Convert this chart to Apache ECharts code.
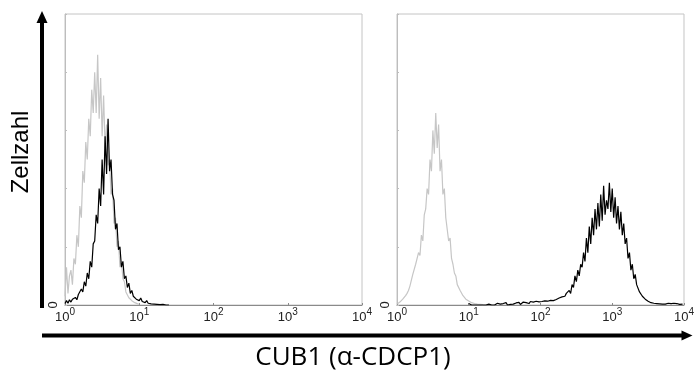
<!DOCTYPE html>
<html>
<head>
<meta charset="utf-8">
<script src="https://cdn.jsdelivr.net/npm/echarts@6/dist/echarts.min.js"></script>
<style>
html,body{margin:0;padding:0;background:#fff;}
#chart{width:697px;height:372px;}
</style>
</head>
<body>
<div id="chart"></div>
<script>
// ---- data (x in log10 units of fluorescence, y in relative cell count, 0..100) ----
const decadeExponents = [0, 1, 2, 3, 4];
const binStep = 0.02;

// Left panel: isotype control (grey)
const leftIsoStart = 0.0;
const leftIso = [3,13,4,10,12,7,16,14,24,20,
  34,30,46,42,56,50,64,58,74,66,
  80,66,86,64,78,58,72,54,62,48,
  50,38,40,28,30,20,22,13,15,9,
  8,4.5,5,2.5,3,1.5,2,0.8,1.2,0.4,
  0.3];

// Left panel: CUB1 (black)
const leftCub1Start = 0.0;
const leftCub1 = [0.5,1.5,0.6,1.8,1,2,1.4,2.6,1.8,3.6,
  3,5.5,4.5,8,6.5,11,9,15,13,21,
  22,31,28,40,34,50,38,58,45,64,
  46,50,38,36,26,28,19,20,13,15,
  9,10,6,7.5,4,5,3,3.5,2,2.6,
  1.5,2.4,1.2,1.8,0.8,1.5,0.6,1.1,0.4,0.9,
  0.3,0.7,0.2,0.6,0.1,0.5,0.2,0.4,0,0.6,0];

// Right panel: isotype control (grey)
const rightIsoStart = 0.0;
const rightIso = [0.3,0.6,1,1.5,2,2.5,3.2,4,5,6.5,
  7,10.5,10,14,13.5,18,17,24,22,31,
  33,40,38,50,46,60,52,66,54,62,
  46,50,38,40,30,30,22,23,16,14,
  11,10,7,7.5,5,5,3.2,3.5,2,2.2,
  1.4,1.2,0.8,1.1,0.5,0.6,0.3,0.4,0.2,0.3,0.1];

// Right panel: CUB1 (black)
const rightCub1Start = 1.0;
const rightCub1 = [0.5,0,0,0.4,0,0,0,0.6,0,0,
  0,0.5,0,0,0.3,0,0,0.5,0,0,
  0.6,0,0.3,0,0.5,0,0.8,0,0.4,0.2,
  0.6,0.3,0,0.7,0.4,0.9,0.2,0.6,1,0.4,
  0.8,1,0.5,1.2,0.7,1,0.6,1.3,0.9,1.1,
  0.8,1.2,1,1.4,0.9,1.3,1.1,1.6,1.2,1.5,
  1.4,1.9,1.6,2.4,2,2.8,3.2,3,4,3.8,
  5,4,7,6,10,8,12,10,14,13,
  18,15,23,18,27,21,30,24,33,26,
  35,27,38,29,41,31,36,33,42,32,
  40,30,37,28,34,26,32,24,28,21,
  23,16,18,12,14,9,10.5,7,7.5,4.5,
  4.5,3,3.2,2,2.2,1.3,1.5,0.8,1.2,0.6,
  0.9,0.5,0.8,0.4,0.7,0.3,0.6,0.3,0.5,0.6,
  0.4,0.5,0.3,0.6,0.4,0.5,0.3,0.2,0.4,0.3];

const toPairs = (start, arr) => arr.map((v, i) => [+(start + i * binStep).toFixed(3), v]);

const chart = echarts.init(document.getElementById('chart'), null, {renderer: 'canvas'});

const grids = [
  {left: 65, top: 14, width: 297, height: 291},
  {left: 397, top: 14, width: 296, height: 291}
];

function xAxisFor(i) {
  return {
    gridIndex: i, type: 'value', min: 0, max: 4, interval: 1,
    axisLine: {show: true, lineStyle: {color: '#8a8a8a', width: 1}},
    axisTick: {show: true, inside: true, length: 2, lineStyle: {color: '#8a8a8a'}},
    splitLine: {show: false},
    axisLabel: {
      margin: 2,
      showMinLabel: true, showMaxLabel: true,
      formatter: v => '{b|10}{s|' + decadeExponents[Math.round(v)] + '}',
      rich: {
        b: {fontSize: 13, fontFamily: 'Liberation Sans, Arial, sans-serif', color: '#222', lineHeight: 17, verticalAlign: 'bottom'},
        s: {fontSize: 10, fontFamily: 'Liberation Sans, Arial, sans-serif', color: '#222', lineHeight: 11, verticalAlign: 'top'}
      }
    }
  };
}
function yAxisFor(i) {
  return {
    gridIndex: i, type: 'value', min: 0, max: 100, interval: 20,
    axisLine: {show: true, lineStyle: {color: '#bdbdbd', width: 1}},
    axisTick: {show: true, inside: true, length: 2, lineStyle: {color: '#bdbdbd'}},
    splitLine: {show: false},
    axisLabel: {
      margin: 5, rotate: 90,
      fontSize: 13, fontFamily: 'Liberation Sans, Arial, sans-serif', color: '#222',
      formatter: v => (v === 0 ? '0' : '')
    }
  };
}

function series(xi, data, color, width, z) {
  return {
    type: 'line', xAxisIndex: xi, yAxisIndex: xi, data: data,
    showSymbol: false, symbol: 'none', smooth: false, silent: true,
    lineStyle: {color: color, width: width}, z: z, animation: false
  };
}

const option = {
  backgroundColor: '#fff',
  animation: false,
  grid: grids.map(g => Object.assign({show: true, borderColor: '#c4c4c4', borderWidth: 1, backgroundColor: 'transparent'}, g)),
  xAxis: [xAxisFor(0), xAxisFor(1)],
  yAxis: [yAxisFor(0), yAxisFor(1)],
  series: [
    series(0, toPairs(leftIsoStart, leftIso), '#c6c6c6', 1.2, 2),
    series(0, toPairs(leftCub1Start, leftCub1), '#000', 1.2, 3),
    series(1, toPairs(rightIsoStart, rightIso), '#c6c6c6', 1.2, 2),
    series(1, toPairs(rightCub1Start, rightCub1), '#000', 1.2, 3)
  ],
  graphic: [
    {type: 'line', shape: {x1: 42, y1: 308, x2: 42, y2: 22}, style: {stroke: '#000', lineWidth: 4}},
    {type: 'polygon', shape: {points: [[36.5, 23], [47.5, 23], [42, 11]]}, style: {fill: '#000'}},
    {type: 'line', shape: {x1: 42, y1: 335.5, x2: 683, y2: 335.5}, style: {stroke: '#000', lineWidth: 4}},
    {type: 'polygon', shape: {points: [[681.5, 330.5], [681.5, 340.5], [692.5, 335.5]]}, style: {fill: '#000'}},
    {type: 'text', x: 21, y: 152, rotation: Math.PI / 2,
      style: {text: 'Zellzahl', fill: '#000', font: '24px "Liberation Sans", Arial, sans-serif', textAlign: 'center', textVerticalAlign: 'middle'}},
    {type: 'text', x: 353, y: 358,
      style: {text: 'CUB1 (\u03b1-CDCP1)', fill: '#000', font: '26px "Open Sans", Lato, sans-serif', textAlign: 'center', textVerticalAlign: 'middle'}}
  ]
};
chart.setOption(option);
</script>
</body>
</html>
